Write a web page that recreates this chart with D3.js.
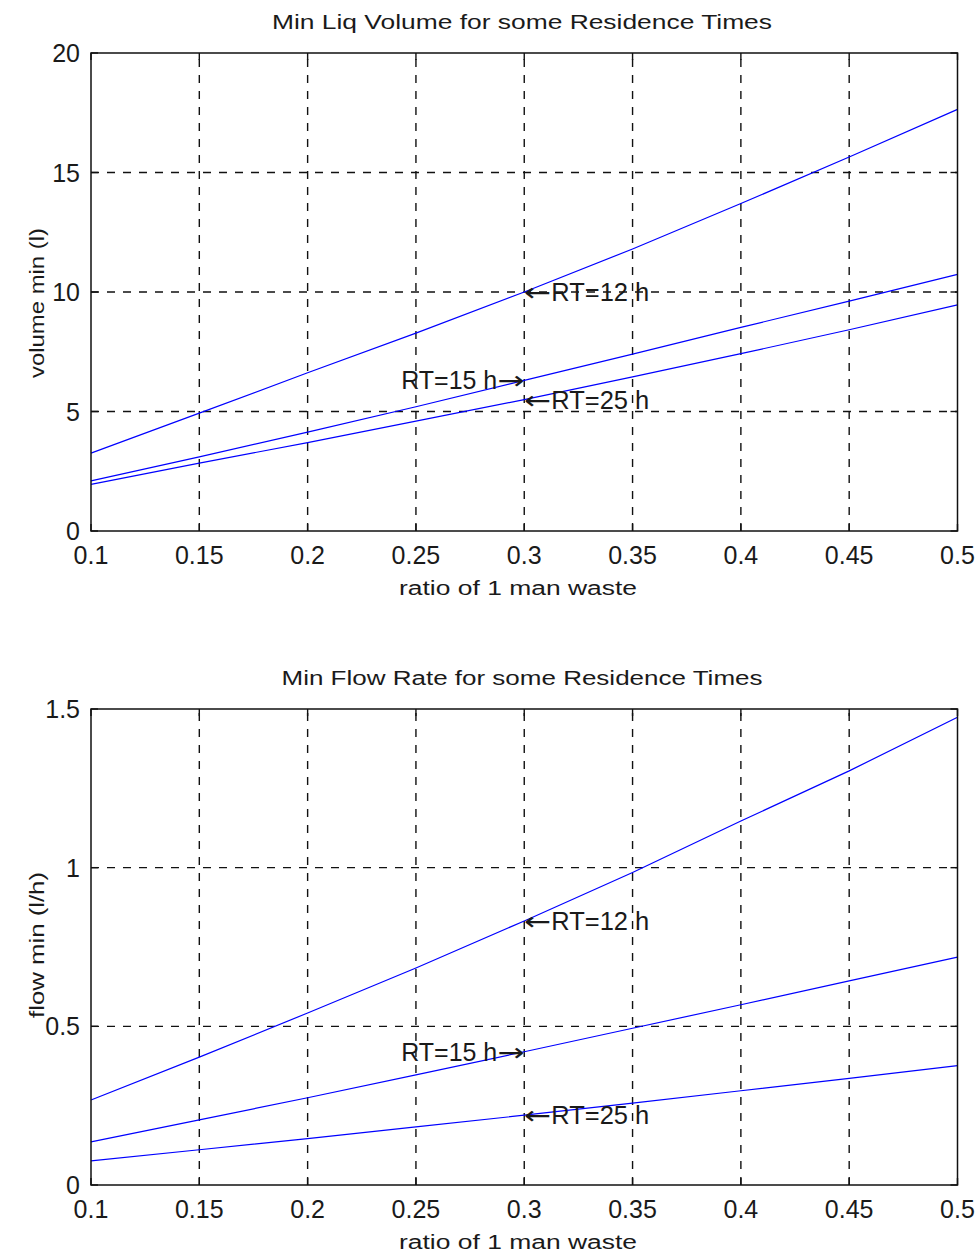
<!DOCTYPE html>
<html>
<head>
<meta charset="utf-8">
<script src="https://cdn.jsdelivr.net/npm/d3@7"></script>
<style>
  html, body { margin: 0; padding: 0; background: #fff; }
  svg { display: block; }
  text { font-family: "Liberation Sans", Arial, "DejaVu Sans", sans-serif; fill: #1a1a1a; }
  .arrow { font-family: "DejaVu Sans", sans-serif; }
</style>
</head>
<body>
<svg id="fig" width="978" height="1257"></svg>
<script>
// Ratio of one man's waste (x values shared by both panels)
const ratio = [0.1, 0.15, 0.2, 0.25, 0.3, 0.35, 0.4, 0.45, 0.5];

// Minimum liquid volume (l) per residence time
const volRT12 = [3.26, 4.93, 6.62, 8.28, 10.0, 11.8, 13.7, 15.65, 17.64];
const volRT15 = [2.1, 3.1, 4.14, 5.2, 6.3, 7.4, 8.52, 9.62, 10.74];
const volRT25 = [1.95, 2.84, 3.7, 4.6, 5.5, 6.45, 7.42, 8.42, 9.46];

// Minimum flow rate (l/h) per residence time
const flowRT12 = [0.268, 0.403, 0.542, 0.684, 0.832, 0.985, 1.147, 1.305, 1.474];
const flowRT15 = [0.136, 0.205, 0.275, 0.347, 0.42, 0.494, 0.568, 0.643, 0.718];
const flowRT25 = [0.076, 0.111, 0.146, 0.183, 0.22, 0.258, 0.297, 0.336, 0.376];

// Tick values
const xTicks = [0.1, 0.15, 0.2, 0.25, 0.3, 0.35, 0.4, 0.45, 0.5];
const xTickLabels = ["0.1", "0.15", "0.2", "0.25", "0.3", "0.35", "0.4", "0.45", "0.5"];
const volTicks = [0, 5, 10, 15, 20];
const volTickLabels = ["0", "5", "10", "15", "20"];
const flowTicks = [0, 0.5, 1, 1.5];
const flowTickLabels = ["0", "0.5", "1", "1.5"];

// Annotation labels at ratio 0.3
const annotX = 0.3;
const labels = ["RT=12 h", "RT=15 h", "RT=25 h"];

const svg = d3.select("#fig");

const panels = [
  {
    top: 53, bottom: 531, ylabelY: 303,
    title: "Min Liq Volume for some Residence Times", titleW: 500,
    ylabel: "volume min (l)", ylabelW: 150,
    domain: [0, 20], ticks: volTicks, tickLabels: volTickLabels,
    series: [volRT12, volRT15, volRT25]
  },
  {
    top: 709, bottom: 1185, ylabelY: 945,
    title: "Min Flow Rate for some Residence Times", titleW: 481,
    ylabel: "flow min (l/h)", ylabelW: 146,
    domain: [0, 1.5], ticks: flowTicks, tickLabels: flowTickLabels,
    series: [flowRT12, flowRT15, flowRT25]
  }
];

const left = 91, right = 957.5;
const x = d3.scaleLinear().domain([0.1, 0.5]).range([left, right]);

panels.forEach(p => {
  const y = d3.scaleLinear().domain(p.domain).range([p.bottom, p.top]);
  const g = svg.append("g");

  // dashed grid
  const grid = g.append("g").attr("stroke", "#111").attr("stroke-width", 1.4)
    .attr("stroke-dasharray", "8,8").attr("fill", "none");
  xTicks.slice(1, -1).forEach(t => {
    grid.append("line").attr("x1", x(t)).attr("x2", x(t))
      .attr("y1", p.bottom).attr("y2", p.top);
  });
  p.ticks.slice(1, -1).forEach(t => {
    grid.append("line").attr("x1", left).attr("x2", right)
      .attr("y1", y(t)).attr("y2", y(t));
  });

  // inward ticks on all four sides
  const tk = g.append("g").attr("stroke", "#111").attr("stroke-width", 1.4);
  xTicks.forEach(t => {
    tk.append("line").attr("x1", x(t)).attr("x2", x(t)).attr("y1", p.bottom).attr("y2", p.bottom - 7);
    tk.append("line").attr("x1", x(t)).attr("x2", x(t)).attr("y1", p.top).attr("y2", p.top + 7);
  });
  p.ticks.forEach(t => {
    tk.append("line").attr("x1", left).attr("x2", left + 7).attr("y1", y(t)).attr("y2", y(t));
    tk.append("line").attr("x1", right).attr("x2", right - 7).attr("y1", y(t)).attr("y2", y(t));
  });

  // series lines
  const line = d3.line().x((d, i) => x(ratio[i])).y(d => y(d));
  p.series.forEach(s => {
    g.append("path").datum(s).attr("d", line)
      .attr("fill", "none").attr("stroke", "#0000ff").attr("stroke-width", 1.2);
  });

  // box
  g.append("rect").attr("x", left).attr("y", p.top)
    .attr("width", right - left).attr("height", p.bottom - p.top)
    .attr("fill", "none").attr("stroke", "#111").attr("stroke-width", 1.5);

  // tick labels
  xTicks.forEach((t, i) => {
    g.append("text").attr("x", x(t)).attr("y", p.bottom + 24)
      .attr("text-anchor", "middle").attr("dominant-baseline", "central")
      .attr("font-size", 25).text(xTickLabels[i]);
  });
  p.ticks.forEach((t, i) => {
    g.append("text").attr("x", 80).attr("y", y(t))
      .attr("text-anchor", "end").attr("dominant-baseline", "central")
      .attr("font-size", 25).text(p.tickLabels[i]);
  });

  // title and axis labels
  g.append("text").attr("x", 522).attr("y", p.top - 31)
    .attr("text-anchor", "middle").attr("dominant-baseline", "central")
    .attr("font-size", 20).attr("textLength", p.titleW).attr("lengthAdjust", "spacingAndGlyphs")
    .text(p.title);
  g.append("text").attr("x", 518).attr("y", p.bottom + 57)
    .attr("text-anchor", "middle").attr("dominant-baseline", "central")
    .attr("font-size", 20).attr("textLength", 238).attr("lengthAdjust", "spacingAndGlyphs")
    .text("ratio of 1 man waste");
  g.append("text")
    .attr("transform", `translate(37,${p.ylabelY}) rotate(-90)`)
    .attr("text-anchor", "middle").attr("dominant-baseline", "central")
    .attr("font-size", 20).attr("textLength", p.ylabelW).attr("lengthAdjust", "spacingAndGlyphs")
    .text(p.ylabel);

  // annotations pointing at ratio 0.3
  const idx = ratio.indexOf(annotX);
  const px = x(annotX);
  [0, 1, 2].forEach(k => {
    const py = y(p.series[k][idx]);
    if (k === 1) {
      const t = g.append("text").attr("x", px - 123).attr("y", py)
        .attr("dominant-baseline", "central").attr("font-size", 25);
      t.append("tspan").attr("textLength", 96).attr("lengthAdjust", "spacingAndGlyphs").text(labels[k]);
      t.append("tspan").attr("class", "arrow").attr("textLength", 27)
        .attr("lengthAdjust", "spacingAndGlyphs").text("\u2192");
    } else {
      const t = g.append("text").attr("x", px).attr("y", py)
        .attr("dominant-baseline", "central").attr("font-size", 25);
      t.append("tspan").attr("class", "arrow").attr("textLength", 27)
        .attr("lengthAdjust", "spacingAndGlyphs").text("\u2190");
      t.append("tspan").attr("textLength", 98).attr("lengthAdjust", "spacingAndGlyphs").text(labels[k]);
    }
  });
});
</script>
</body>
</html>
